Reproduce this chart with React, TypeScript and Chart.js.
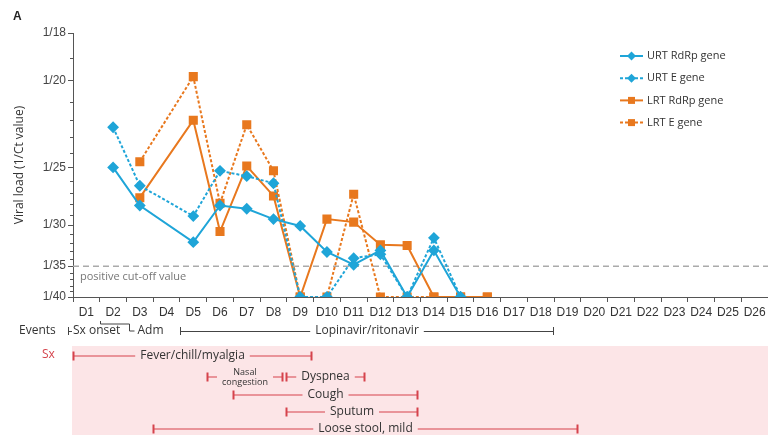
import React, { useEffect, useRef } from 'react';
import { Chart, registerables } from 'chart.js';

Chart.register(...registerables);

// ---------- data ----------
const days = ['D1','D2','D3','D4','D5','D6','D7','D8','D9','D10','D11','D12','D13','D14','D15','D16','D17','D18','D19','D20','D21','D22','D23','D24','D25','D26'];

const yTickCt = [18, 20, 25, 30, 35, 40];
const yMinorCt = [19, 21, 22, 23, 24, 26, 27, 28, 29, 31, 32, 33, 34, 36, 37, 38, 39];
const cutoffCt = 35;

// Ct values per day (40 = below detection / negative), null = not measured
const urtRdRpCt = [null, 25, 28.1, null, 31.9, 28.1, 28.4, 29.4, 30.1, 33.1, 34.8, 32.9, 40, 32.9, 40];
const urtECt = [null, 22.4, 26.4, null, 29.1, 25.25, 25.65, 26.2, 40, 40, 33.9, 33.4, 40, 31.4, 40];
const lrtRdRpCt = [null, null, 27.4, null, 22.0, 30.7, 24.9, 27.25, 40, 29.4, 29.7, 32.2, 32.3, 40, 40, 40];
const lrtECt = [null, null, 24.6, null, 19.8, 27.9, 22.25, 25.25, 40, 40, 27.1, 40, 40, 40, 40, 40];

const seriesNames = ['URT RdRp gene', 'URT E gene', 'LRT RdRp gene', 'LRT E gene'];

// events (in day-boundary units: 0 = start of D1)
const eventSxOnset = 0;
const eventAdmFrom = 1.0;
const eventAdmTo = 2.1;
const lopinavirRange = [4, 17.95];
const lopinavirLabel = 'Lopinavir/ritonavir';

// symptoms
const symptomNames = ['Fever/chill/myalgia', 'Nasal\ncongestion', 'Dyspnea', 'Cough', 'Sputum', 'Loose stool, mild'];
const symptomStart = [0, 5, 7.95, 6, 7.95, 3];
const symptomEnd = [8.9, 7.8, 10.9, 12.87, 12.87, 18.84];
const symptomRow = [0, 1, 1, 2, 3, 4];

// ---------- styles ----------
const BLUE = '#1FA5D8';
const ORANGE = '#E8781E';
const RED = '#D5434C';
const PINK = '#FCE5E7';
const SANS = "'Open Sans', 'Noto Sans', sans-serif";
const ARIAL = "'Liberation Sans', Arial, sans-serif";

const toInv = (arr: (number | null)[]) => arr.map((c) => (c == null ? null : 1 / c));

const decor = {
  id: 'decor',
  beforeDatasetsDraw(chart: any) {
    const { ctx, chartArea } = chart;
    const ys = chart.scales.y;
    const y = ys.getPixelForValue(1 / cutoffCt);
    ctx.save();
    ctx.strokeStyle = '#AAAAAA';
    ctx.lineWidth = 1.5;
    ctx.setLineDash([6, 4]);
    ctx.beginPath();
    ctx.moveTo(chartArea.left, y);
    ctx.lineTo(chartArea.right, y);
    ctx.stroke();
    ctx.setLineDash([]);
    ctx.fillStyle = '#777';
    ctx.font = `11px ${SANS}`;
    ctx.textBaseline = 'middle';
    ctx.textAlign = 'left';
    ctx.fillText('positive cut-off value', chartArea.left + 7, y + 11);
    ctx.restore();
  },
  afterDraw(chart: any) {
    const { ctx, chartArea } = chart;
    const xs = chart.scales.x;
    const ys = chart.scales.y;
    const W = chart.width;
    const H = chart.height;
    const px = (k: number) => xs.getPixelForValue(k - 0.5);
    ctx.save();

    // minor y ticks
    ctx.strokeStyle = '#555';
    ctx.lineWidth = 1;
    ctx.beginPath();
    yMinorCt.forEach((c) => {
      const y = Math.round(ys.getPixelForValue(1 / c)) + 0.5;
      ctx.moveTo(chartArea.left - 3, y);
      ctx.lineTo(chartArea.left, y);
    });
    ctx.stroke();

    // panel letter
    ctx.fillStyle = '#222';
    ctx.font = `bold 12px ${ARIAL}`;
    ctx.textAlign = 'left';
    ctx.textBaseline = 'alphabetic';
    ctx.fillText('A', 13, 20);

    // legend
    chart.data.datasets.forEach((ds: any, i: number) => {
      const y = chartArea.top + 23 + i * 22.2;
      const x0 = chartArea.right - 148;
      ctx.strokeStyle = ds.borderColor;
      ctx.lineWidth = 2;
      ctx.setLineDash(ds.borderDash || []);
      ctx.beginPath();
      ctx.moveTo(x0, y);
      ctx.lineTo(x0 + 23, y);
      ctx.stroke();
      ctx.setLineDash([]);
      ctx.fillStyle = ds.borderColor;
      const cx = x0 + 11.5;
      if (ds.pointStyle === 'rectRot') {
        ctx.beginPath();
        ctx.moveTo(cx, y - 4.5);
        ctx.lineTo(cx + 4.5, y);
        ctx.lineTo(cx, y + 4.5);
        ctx.lineTo(cx - 4.5, y);
        ctx.closePath();
        ctx.fill();
      } else {
        ctx.fillRect(cx - 3.5, y - 3.5, 7, 7);
      }
      ctx.fillStyle = '#333';
      ctx.font = `11px ${SANS}`;
      ctx.textBaseline = 'middle';
      ctx.textAlign = 'left';
      ctx.fillText(ds.label, x0 + 27, y);
    });

    // events row
    const ey = chartArea.bottom + 34;
    ctx.fillStyle = '#333';
    ctx.strokeStyle = '#444';
    ctx.lineWidth = 1;
    ctx.font = `12px ${SANS}`;
    ctx.textBaseline = 'middle';
    ctx.textAlign = 'left';
    ctx.fillText('Events', 19, ey);

    // Sx onset
    const so = px(eventSxOnset) - 5;
    ctx.beginPath();
    ctx.moveTo(so + 0.5, ey - 4);
    ctx.lineTo(so + 0.5, ey + 4);
    ctx.moveTo(so, ey + 0.5);
    ctx.lineTo(so + 4, ey + 0.5);
    ctx.stroke();
    ctx.fillText('Sx onset', so + 5, ey);

    // Adm bracket
    const xa = Math.round(px(eventAdmFrom)) + 0.5;
    const xb = Math.round(px(eventAdmTo)) + 0.5;
    ctx.beginPath();
    ctx.moveTo(xa, ey - 10);
    ctx.lineTo(xa, ey - 7);
    ctx.lineTo(xb, ey - 7);
    ctx.lineTo(xb, ey);
    ctx.lineTo(xb + 5, ey);
    ctx.stroke();
    ctx.fillText('Adm', xb + 8, ey);

    // Lopinavir/ritonavir
    const ls = Math.round(px(lopinavirRange[0])) + 0.5;
    const le = Math.round(px(lopinavirRange[1])) + 0.5;
    const lc = (ls + le) / 2;
    const lw = ctx.measureText(lopinavirLabel).width;
    ctx.beginPath();
    ctx.moveTo(ls, ey - 4);
    ctx.lineTo(ls, ey + 4);
    ctx.moveTo(le, ey - 4);
    ctx.lineTo(le, ey + 4);
    ctx.moveTo(ls, ey + 0.5);
    ctx.lineTo(lc - lw / 2 - 5, ey + 0.5);
    ctx.moveTo(lc + lw / 2 + 5, ey + 0.5);
    ctx.lineTo(le, ey + 0.5);
    ctx.stroke();
    ctx.textAlign = 'center';
    ctx.fillText(lopinavirLabel, lc, ey);

    // symptom panel
    const pTop = chartArea.bottom + 49;
    ctx.fillStyle = PINK;
    ctx.fillRect(chartArea.left - 1, pTop, W - chartArea.left + 1, H - pTop);
    ctx.fillStyle = RED;
    ctx.textAlign = 'left';
    ctx.font = `12px ${SANS}`;
    ctx.fillText('Sx', 42, chartArea.bottom + 58);

    const rowOff = [59, 80, 98, 115, 132];
    symptomNames.forEach((name, i) => {
      const y = chartArea.bottom + rowOff[symptomRow[i]];
      const xs0 = Math.round(px(symptomStart[i])) + 0.5;
      const xe0 = Math.round(px(symptomEnd[i])) + 0.5;
      const cx = (xs0 + xe0) / 2;
      const lines = name.split('\n');
      const small = lines.length > 1;
      ctx.font = small ? `9px ${SANS}` : `12px ${SANS}`;
      const tw = Math.max(...lines.map((l) => ctx.measureText(l).width));
      ctx.strokeStyle = RED;
      ctx.lineWidth = 2;
      ctx.beginPath();
      ctx.moveTo(xs0, y - 4.5);
      ctx.lineTo(xs0, y + 4.5);
      ctx.moveTo(xe0, y - 4.5);
      ctx.lineTo(xe0, y + 4.5);
      ctx.stroke();
      ctx.lineWidth = 1.2;
      ctx.beginPath();
      ctx.moveTo(xs0, y);
      ctx.lineTo(cx - tw / 2 - 5, y);
      ctx.moveTo(cx + tw / 2 + 5, y);
      ctx.lineTo(xe0, y);
      ctx.stroke();
      ctx.fillStyle = '#333';
      ctx.textAlign = 'center';
      ctx.textBaseline = 'middle';
      if (small) {
        ctx.fillText(lines[0], cx, y - 5);
        ctx.fillText(lines[1], cx, y + 5);
      } else {
        ctx.fillText(name, cx, y);
      }
    });

    ctx.restore();
  },
};

export default function App() {
  const ref = useRef<HTMLCanvasElement>(null);
  useEffect(() => {
    const canvas = ref.current;
    if (!canvas) return;
    const chart = new Chart(canvas, {
      type: 'line',
      data: {
        labels: days,
        datasets: [
          {
            label: seriesNames[0],
            data: toInv(urtRdRpCt),
            borderColor: BLUE,
            backgroundColor: BLUE,
            pointBackgroundColor: BLUE,
            pointBorderColor: BLUE,
            pointStyle: 'rectRot',
            pointRadius: 4.5,
            borderWidth: 2,
            spanGaps: true,
            tension: 0,
          },
          {
            label: seriesNames[1],
            data: toInv(urtECt),
            borderColor: BLUE,
            backgroundColor: BLUE,
            pointBackgroundColor: BLUE,
            pointBorderColor: BLUE,
            pointStyle: 'rectRot',
            pointRadius: 4.5,
            borderWidth: 2,
            borderDash: [3, 2],
            spanGaps: true,
            tension: 0,
          },
          {
            label: seriesNames[2],
            data: toInv(lrtRdRpCt),
            borderColor: ORANGE,
            backgroundColor: ORANGE,
            pointBackgroundColor: ORANGE,
            pointBorderColor: ORANGE,
            pointStyle: 'rect',
            pointRadius: 5,
            borderWidth: 2,
            spanGaps: true,
            tension: 0,
          },
          {
            label: seriesNames[3],
            data: toInv(lrtECt),
            borderColor: ORANGE,
            backgroundColor: ORANGE,
            pointBackgroundColor: ORANGE,
            pointBorderColor: ORANGE,
            pointStyle: 'rect',
            pointRadius: 5,
            borderWidth: 2,
            borderDash: [3, 2],
            spanGaps: true,
            tension: 0,
          },
        ],
      },
      options: {
        responsive: false,
        animation: false,
        layout: { autoPadding: false, padding: { top: 33, right: 0, left: 0, bottom: 0 } },
        plugins: { legend: { display: false }, tooltip: { enabled: false } },
        scales: {
          x: {
            type: 'category',
            offset: true,
            grid: { display: true, drawOnChartArea: false, drawTicks: true, tickLength: 5, color: '#555', offset: true },
            border: { display: true, color: '#555', width: 1 },
            ticks: { font: { family: ARIAL, size: 12 }, color: '#333', padding: 3, maxRotation: 0, autoSkip: false },
            afterFit: (s: any) => { s.height = 138; s.paddingLeft = 0; s.paddingRight = 0; },
          },
          y: {
            type: 'linear',
            min: 1 / 40,
            max: 1 / 18,
            afterBuildTicks: (s: any) => { s.ticks = yTickCt.map((c) => ({ value: 1 / c })); },
            ticks: {
              callback: (v: any) => '1/' + Math.round(1 / Number(v)),
              font: { family: ARIAL, size: 12 },
              color: '#444',
              padding: 2,
            },
            grid: { display: true, drawOnChartArea: false, drawTicks: true, tickLength: 5, color: '#555' },
            border: { display: true, color: '#555', width: 1 },
            title: {
              display: true,
              text: 'Viral load (1/Ct value)',
              font: { family: SANS, size: 12 },
              color: '#333',
              padding: { top: 12, bottom: 0 },
            },
            afterFit: (s: any) => { s.width = 73; s.paddingTop = 0; s.paddingBottom = 0; },
          },
        },
      },
      plugins: [decor],
    });
    return () => chart.destroy();
  }, []);
  return (
    <div style={{ position: 'absolute', left: 0, top: 0, width: 768, height: 435, background: '#fff' }}>
      <canvas ref={ref} width={768} height={435} style={{ display: 'block', width: 768, height: 435 }} />
    </div>
  );
}
